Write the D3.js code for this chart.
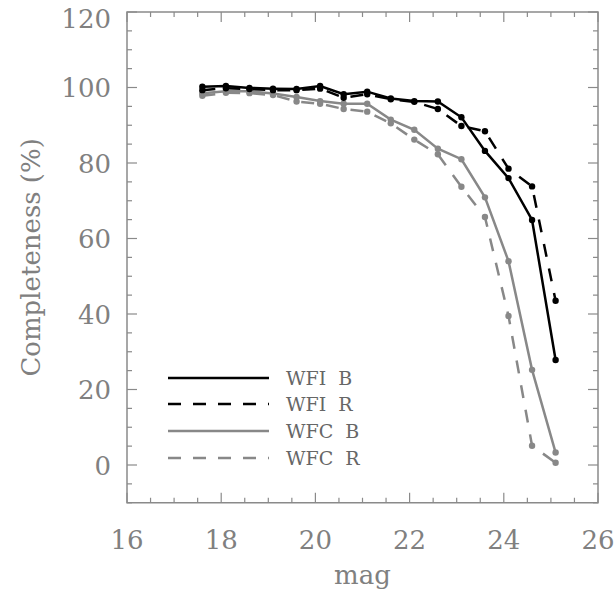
<!DOCTYPE html>
<html><head><meta charset="utf-8">
<script src="https://cdn.jsdelivr.net/npm/d3@7"></script>
<style>body{margin:0;background:#fff}svg{display:block}</style>
</head><body>
<script>
const mags = [17.6,18.1,18.6,19.1,19.6,20.1,20.6,21.1,21.6,22.1,22.6,23.1,23.6,24.1,24.6,25.1];
const wfiB = [100.2,100.4,99.9,99.7,99.6,100.4,98.2,98.9,97.1,96.4,96.3,92.1,83.2,76.0,64.9,27.8];
const wfiR = [99.3,99.8,99.6,99.3,99.3,99.7,97.3,98.2,96.9,96.2,94.3,89.8,88.4,78.5,73.8,43.5];
const wfcB = [98.5,99.0,99.0,98.4,97.5,96.4,95.7,95.7,91.5,88.8,83.8,81.0,70.9,54.0,25.2,3.3];
const wfcR = [97.8,98.6,98.5,98.0,96.3,95.7,94.3,93.6,90.5,86.2,82.3,73.7,65.7,39.5,5.1,0.6];
const seriesNames = ["WFI  B","WFI  R","WFC  B","WFC  R"];
const xTicks = [16,18,20,22,24,26];
const yTicks = [0,20,40,60,80,100,120];

const W=615,H=591;
const svg=d3.select("body").append("svg").attr("width",W).attr("height",H);
const x=d3.scaleLinear().domain([16,26]).range([127,598]);
const y=d3.scaleLinear().domain([-10,120]).range([502.75,12]);
const axisCol="#8a8a8a", textCol="#808080";
const font="DejaVu Serif";

const g=svg.append("g");
g.append("rect").attr("x",x(16)).attr("y",y(120)).attr("width",x(26)-x(16)).attr("height",y(-10)-y(120))
  .attr("fill","none").attr("stroke",axisCol).attr("stroke-width",1.5);

const xMinor=d3.range(16,26.01,0.5), yMinor=d3.range(-10,120.01,5);
xMinor.forEach(v=>{
  const L = (Math.abs(v%2)<1e-6)?10:5;
  g.append("line").attr("x1",x(v)).attr("x2",x(v)).attr("y1",y(-10)).attr("y2",y(-10)-L).attr("stroke",axisCol).attr("stroke-width",1.2);
  g.append("line").attr("x1",x(v)).attr("x2",x(v)).attr("y1",y(120)).attr("y2",y(120)+L).attr("stroke",axisCol).attr("stroke-width",1.2);
});
yMinor.forEach(v=>{
  const L = (Math.abs(v%20)<1e-6)?10:5;
  g.append("line").attr("y1",y(v)).attr("y2",y(v)).attr("x1",x(16)).attr("x2",x(16)+L).attr("stroke",axisCol).attr("stroke-width",1.2);
  g.append("line").attr("y1",y(v)).attr("y2",y(v)).attr("x1",x(26)).attr("x2",x(26)-L).attr("stroke",axisCol).attr("stroke-width",1.2);
});

g.selectAll(".xl").data(xTicks).enter().append("text")
  .attr("x",d=>x(d)).attr("y",549).attr("text-anchor","middle")
  .attr("font-family",font).attr("font-size",26).attr("fill",textCol).text(d=>d);
g.selectAll(".yl").data(yTicks).enter().append("text")
  .attr("x",111).attr("y",d=>Math.max(y(d)+9.5,28)).attr("text-anchor","end")
  .attr("font-family",font).attr("font-size",26).attr("fill",textCol).text(d=>d);

svg.append("text").attr("x",x(21)).attr("y",584).attr("text-anchor","middle")
  .attr("font-family",font).attr("font-size",26).attr("fill",textCol).text("mag");
svg.append("text").attr("transform",`translate(40,${y(55)}) rotate(-90)`).attr("text-anchor","middle")
  .attr("font-family",font).attr("font-size",26).attr("fill",textCol).text("Completeness (%)");

const series=[
  {name:seriesNames[0],vals:wfiB,color:"#000",dash:null},
  {name:seriesNames[1],vals:wfiR,color:"#000",dash:"13,12"},
  {name:seriesNames[2],vals:wfcB,color:"#888",dash:null},
  {name:seriesNames[3],vals:wfcR,color:"#888",dash:"13,12"}
];
const line=d3.line().x(d=>x(d[0])).y(d=>y(d[1]));
[3,2,1,0].forEach(i=>{
  const s=series[i];
  const pts=mags.map((m,j)=>[m,s.vals[j]]);
  svg.append("path").datum(pts).attr("d",line).attr("fill","none")
    .attr("stroke",s.color).attr("stroke-width",2.5).attr("stroke-dasharray",s.dash);
  svg.selectAll(null).data(pts).enter().append("circle")
    .attr("cx",d=>x(d[0])).attr("cy",d=>y(d[1])).attr("r",3.2).attr("fill",s.color);
});

const legY=[378,404,431,458];
series.forEach((s,i)=>{
  svg.append("line").attr("x1",168).attr("x2",269).attr("y1",legY[i]).attr("y2",legY[i])
    .attr("stroke",s.color).attr("stroke-width",2.5).attr("stroke-dasharray",s.dash);
  svg.append("text").attr("x",286).attr("y",legY[i]+7).attr("font-family",font).attr("font-size",19)
    .attr("fill","#666").style("white-space","pre").text(s.name);
});
</script>
</body></html>
